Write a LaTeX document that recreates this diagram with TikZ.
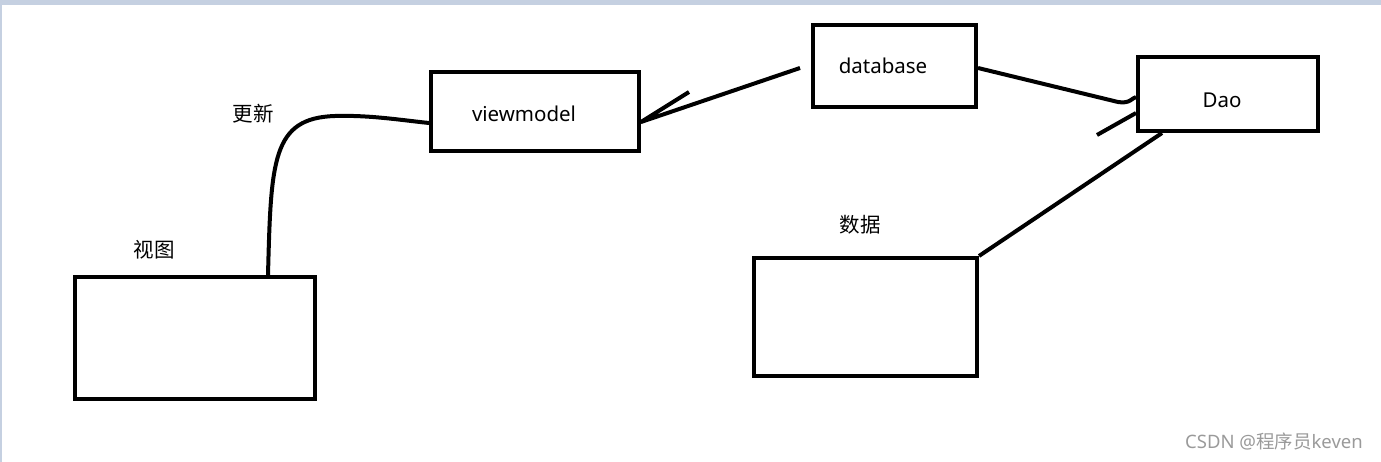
\documentclass[tikz,border=0pt]{standalone}
\usepackage{fontspec}
\setmainfont{Noto Sans}
\newfontfamily\cjk{Noto Sans CJK SC}
\usetikzlibrary{calc}
\definecolor{framebar}{HTML}{C5D0E1}
\definecolor{wm}{HTML}{9A9A9A}
\begin{document}
\begin{tikzpicture}[x=1pt,y=-1pt,
  box/.style={draw=black,line width=4pt,rectangle,inner sep=0pt},
  conn/.style={draw=black,line width=4pt,line join=round},
  lbl/.style={inner sep=0pt,font=\fontsize{20.5}{22}\selectfont},
  clbl/.style={inner sep=0pt,font=\cjk\fontsize{20.5}{22}\selectfont}]
\useasboundingbox (0,0) rectangle (1381,462);
\fill[framebar] (0,0) rectangle (1381,5);
\fill[framebar] (0,5) rectangle (1.5,462);
% boxes
\node[box,minimum width=240pt,minimum height=122pt] (view) at (195,338) {};
\node[box,minimum width=208pt,minimum height=79pt] (vm) at (535,111.5) {};
\node[box,minimum width=163pt,minimum height=82pt] (db) at (894.5,66) {};
\node[box,minimum width=180pt,minimum height=74pt] (dao) at (1228,94) {};
\node[box,minimum width=223pt,minimum height=118pt] (data) at (865.5,317) {};
% labels
\node[lbl] (tvm) at (524,114) {viewmodel};
\node[lbl] (tdb) at (883,66) {database};
\node[lbl] (tdao) at (1222,100) {Dao};
\node[clbl] (tupd) at (253,114) {更新};
\node[clbl] (tview) at (154,250) {视图};
\node[clbl] (tdata) at (860,225) {数据};
\node[inner sep=0pt,text=wm,font=\fontsize{18.5}{20}\selectfont] (wmk) at (1274,442) {CSDN @{\cjk 程序员}keven};
% connectors
\coordinate (c1) at ([xshift=73pt]view.north);
\coordinate (c2) at ([yshift=-11.5pt]vm.west);
\draw[conn] (c1) .. controls (271,160) and (272,118) .. (335,116) .. controls (370,115) and (400,120) .. (c2);
\coordinate (d1) at (800,68);
\coordinate (d2) at ([yshift=-10.5pt]vm.east);
\coordinate (d3) at (689,92);
\draw[conn] (d1) -- (d2) -- (d3);
\coordinate (e1) at ([yshift=-2pt]db.east);
\coordinate (e2) at ([yshift=-3pt]dao.west);
\draw[conn] (e1) -- (1118,102) .. controls (1130,104) and (1132,98) .. (e2);
\coordinate (t1) at (1097,135);
\coordinate (t2) at ([yshift=-19pt]dao.west);
\draw[conn] (t1) -- (t2);
\coordinate (f1) at ([xshift=-66pt]dao.south);
\draw[conn] (f1) -- (data.north east);
\end{tikzpicture}
\end{document}
